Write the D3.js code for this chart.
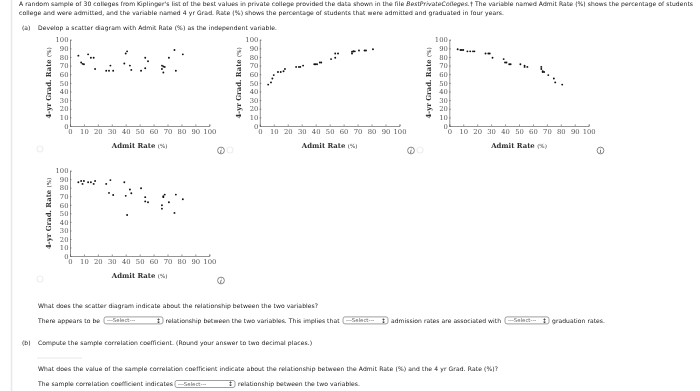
<!DOCTYPE html>
<html><head><meta charset="utf-8">
<script src="https://cdn.jsdelivr.net/npm/d3@7/dist/d3.min.js"></script>
<style>
html,body{margin:0;padding:0;background:#fff;overflow:hidden}
svg{display:block;filter:blur(0.35px)}
.q{font-family:"DejaVu Sans",sans-serif;font-size:6.05px;fill:#222}
.tick text{font-family:"DejaVu Serif",serif;font-size:6.8px;fill:#555}
.ax{font-family:"DejaVu Serif",serif;font-weight:bold;font-size:6.9px;fill:#333}
</style></head><body><svg id="c" width="700" height="391"></svg>
<script>
const admit=[6,8,9,10,13,15,17,18,26,28,29,31,39,40,41,43,44,51,54,54,56,66,66,67,67,68,71,75,76,81];
const gradA=[81.5,73.5,72,71.5,83,79,79,66,64,64,70,64,72.5,84,86.5,70,65,64,79,67,75,70,66,69,62,68.5,79,88,64,83];
const gradB=[48,50.5,55,59,62.5,62.5,63.5,66,68.5,68.5,68.5,70,71.5,71.5,71.5,73.5,73.5,77.5,79,84,84,84,86,86.5,86.5,86.5,87.5,87.5,87.5,89];
const gradC=[89,88,88,88,86.5,86.5,86.5,86.5,84,84,84,79,77.5,73.5,73.5,71.5,71.5,71.5,70,68.5,68.5,68.5,66,63.5,62.5,62.5,59,55,50.5,48];
const gradD=[86.5,88,84.5,88,86.5,86.5,84.5,88,84.5,74,89,71.5,86.5,70.5,48,78,73.5,79.5,69,64,63,59.5,55.5,69,70,72,63,50.5,72,66.5];
const tickValues=[0,10,20,30,40,50,60,70,80,90,100];
const xTitle="Admit Rate", yTitle="4-yr Grad. Rate", unit="(%)";
const panels=[
 {ys:gradA,x0:70,x1:209.3,top:39.7,bottom:126,ix:221,radio:[40,149]},
 {ys:gradB,x0:259.8,x1:399.5,top:39.7,bottom:126,ix:411,radio:[230,150]},
 {ys:gradC,x0:449.3,x1:588.7,top:39.7,bottom:126,ix:600.5,radio:[420,150]},
 {ys:gradD,x0:70,x1:209.3,top:170.7,bottom:256,ix:221,radio:[40,279]}
];
const lines=[
 {x:19,y:4.3,w:674,t:"A random sample of 30 colleges from Kiplinger's list of the best values in private college provided the data shown in the file |BestPrivateColleges.|† The variable named Admit Rate (%) shows the percentage of students"},
 {x:19,y:12.6,w:485,t:"college and were admitted, and the variable named 4 yr Grad. Rate (%) shows the percentage of students that were admitted and graduated in four years."},
 {x:22,y:27.6,t:"(a)"},
 {x:38,y:27.6,w:239,t:"Develop a scatter diagram with Admit Rate (%) as the independent variable."},
 {x:38,y:305.7,w:280,t:"What does the scatter diagram indicate about the relationship between the two variables?"},
 {x:38,y:320.4,w:62,t:"There appears to be"},
 {x:165.5,y:320.4,w:174,t:"relationship between the two variables. This implies that"},
 {x:391,y:320.4,w:110,t:"admission rates are associated with"},
 {x:552,y:320.4,w:53,t:"graduation rates."},
 {x:22,y:342.7,t:"(b)"},
 {x:38,y:342.7,w:274,t:"Compute the sample correlation coefficient. (Round your answer to two decimal places.)"},
 {x:38,y:369,w:460,t:"What does the value of the sample correlation coefficient indicate about the relationship between the Admit Rate (%) and the 4 yr Grad. Rate (%)?"},
 {x:38,y:384,w:135,t:"The sample correlation coefficient indicates"},
 {x:238,y:384,w:122,t:"relationship between the two variables."}
];
const selects=[[104,163,320.4],[343,388,320.4],[505,549,320.4],[175,235,384]];
const svg=d3.select("#c");
svg.append("line").attr("x1",11.5).attr("x2",11.5).attr("y1",0).attr("y2",391).attr("stroke","#e8e8e8").attr("stroke-width",1.5);
svg.selectAll("text.q").data(lines).join("text").attr("class","q")
 .attr("x",d=>d.x).attr("y",d=>d.y).attr("dy","0.35em")
 .attr("textLength",d=>d.w||null).attr("lengthAdjust","spacing")
 .each(function(d){
   d.t.split("|").forEach((s,i)=>{
     d3.select(this).append("tspan").style("font-style",i===1?"italic":"normal").text(s);
   });
 });
svg.append("line").attr("x1",37).attr("x2",82).attr("y1",358).attr("y2",358).attr("stroke","#e8e8e8");
selects.forEach(([a,b,y])=>{
 const g=svg.append("g");
 g.append("rect").attr("x",a).attr("y",y-3.5).attr("width",b-a).attr("height",7).attr("rx",2).attr("fill","#fff").attr("stroke","#888").attr("stroke-width",.8);
 g.append("text").attr("class","q").attr("x",a+3).attr("y",y).attr("dy","0.35em").style("font-size","5.4px").style("fill","#666").text("---Select---");
 g.append("text").attr("class","q").attr("x",b-7).attr("y",y).attr("dy","0.35em").style("font-size","6px").text("\u2195");
});
panels.forEach(p=>{
 const x=d3.scaleLinear().domain([0,100]).range([p.x0,p.x1]);
 const y=d3.scaleLinear().domain([0,100]).range([p.bottom,p.top]);
 const gx=svg.append("g").attr("transform",`translate(0,${p.bottom})`)
  .call(d3.axisBottom(x).tickValues(tickValues).tickSize(-1.5).tickPadding(3.5));
 const gy=svg.append("g").attr("transform",`translate(${p.x0},0)`)
  .call(d3.axisLeft(y).tickValues(tickValues).tickSize(-1.5).tickPadding(1.5));
 [gx,gy].forEach(g=>{g.selectAll("path,line").attr("stroke","#666").attr("stroke-width",.7);});
 svg.append("g").selectAll("circle").data(admit.map((a,i)=>[a,p.ys[i]])).join("circle")
  .attr("cx",d=>x(d[0])).attr("cy",d=>y(d[1])).attr("r",.95).attr("fill","#111");
 const lx=svg.append("text").attr("class","ax").attr("x",(p.x0+p.x1)/2).attr("y",p.bottom+20).attr("dy","0.35em").attr("text-anchor","middle");
 lx.append("tspan").text(xTitle+" "); lx.append("tspan").style("font-size","5.6px").style("font-weight","normal").text(unit);
 const cy=(p.top+p.bottom)/2;
 const ly=svg.append("text").attr("class","ax").attr("text-anchor","middle").attr("transform",`translate(${p.x0-21},${cy}) rotate(-90)`).attr("dy","0.35em");
 ly.append("tspan").text(yTitle+" "); ly.append("tspan").style("font-size","5.6px").style("font-weight","normal").text(unit);
 svg.append("circle").attr("cx",p.radio[0]).attr("cy",p.radio[1]).attr("r",3).attr("fill","none").attr("stroke","#eee").attr("stroke-width",1.2);
 const iy=p.bottom+24.5;
 svg.append("circle").attr("cx",p.ix).attr("cy",iy).attr("r",3.4).attr("fill","#fff").attr("stroke","#555").attr("stroke-width",.7);
 svg.append("text").attr("x",p.ix).attr("y",iy).attr("dy","0.35em").attr("text-anchor","middle").style("font-family","DejaVu Serif").style("font-style","italic").style("font-size","6px").style("fill","#333").text("i");
});
</script></body></html>
